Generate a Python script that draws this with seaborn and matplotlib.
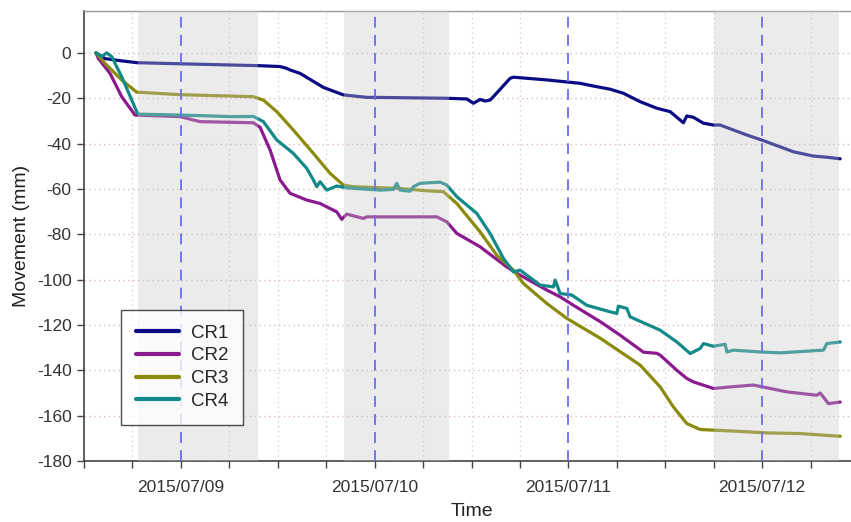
import numpy as np
import pandas as pd
import matplotlib
matplotlib.use("Agg")
import matplotlib.pyplot as plt
import matplotlib.dates as mdates
import seaborn as sns

# ---- data (hours since 2015-07-08 00:00, movement in mm) ----
series_names = ["CR1", "CR2", "CR3", "CR4"]
palette_colors = ["#0b0b86", "#8a1a8e", "#8a8a0c", "#128a8a"]

cr1_hours = [13.49, 14.6, 16.67, 18.57, 24.02, 33.56, 36.28, 37.11, 37.52, 38.76, 41.65, 44.13,
             47.03, 47.85, 56.94, 59.42, 60.24, 61.06, 61.68, 62.30, 62.71, 64.78, 65.19, 69.33,
             73.45, 75.10, 77.17, 78.82, 80.89, 82.96, 84.61, 86.25, 86.67, 87.49, 88.73, 89.97,
             90.80, 94.11, 96.17, 99.88, 102.36, 104.02, 105.67]
cr1_mm = [0, -2.5, -3.5, -4.3, -4.8, -5.6, -6.0, -6.8, -7.5, -9.0, -15.2, -18.5,
          -19.6, -19.6, -20.0, -20.3, -22.2, -20.5, -21.2, -20.8, -19.3, -11.2, -10.7, -11.9,
          -13.4, -14.6, -16.0, -17.8, -21.5, -24.4, -25.9, -30.8, -27.8, -28.4, -31.0, -31.8,
          -31.8, -36.2, -38.7, -43.6, -45.5, -46.0, -46.7]

cr2_hours = [13.49, 13.77, 15.22, 16.67, 18.32, 23.89, 26.37, 32.98, 33.81, 35.05, 36.28, 37.52,
             39.59, 41.24, 42.07, 43.31, 43.93, 44.55, 46.61, 47.03, 50.74, 55.70, 56.94, 58.18,
             61.06, 64.37, 66.02, 69.33, 70.98, 72.62, 75.93, 78.41, 81.30, 82.96, 83.37, 85.44,
             86.67, 87.49, 89.97, 92.45, 94.93, 99.06, 102.78, 103.19, 104.22, 105.67]
cr2_mm = [0, -2.4, -9.0, -19.3, -27.4, -28.1, -30.3, -30.8, -32.8, -42.8, -56.0, -61.9,
          -64.9, -66.4, -67.9, -70.1, -73.4, -71.1, -73.0, -72.3, -72.3, -72.3, -74.5, -79.6,
          -85.5, -94.4, -98.0, -104.6, -107.6, -111.3, -118.5, -124.5, -132.0, -132.5, -133.3, -140.0,
          -143.6, -145.1, -148.0, -147.2, -146.5, -149.5, -151.0, -150.0, -154.7, -154.0]

cr3_hours = [13.49, 14.60, 16.67, 18.53, 23.89, 32.98, 34.22, 35.88, 37.93, 40.41, 42.48, 44.13,
             45.37, 51.15, 54.46, 56.52, 58.18, 61.06, 63.13, 65.19, 66.43, 69.33, 71.81, 75.93,
             80.89, 83.37, 85.02, 86.67, 88.32, 92.45, 96.59, 100.71, 105.67]
cr3_mm = [0, -4.6, -11.9, -17.3, -18.4, -19.3, -20.8, -25.9, -34.0, -44.3, -53.1, -58.3,
          -59.0, -59.8, -60.8, -61.2, -66.4, -78.9, -89.2, -95.8, -101.7, -110.5, -117.1, -125.8,
          -137.7, -147.3, -156.2, -163.5, -166.1, -166.8, -167.6, -167.9, -169.1]

cr4_hours = [13.49, 14.19, 14.81, 15.43, 16.67, 18.53, 18.73, 23.89, 30.50, 32.98, 34.22, 35.88,
             37.93, 39.59, 40.41, 40.83, 41.24, 42.07, 43.31, 44.55, 48.67, 50.32, 50.74, 51.15,
             52.39, 52.80, 53.63, 56.11, 56.94, 58.18, 60.66, 62.30, 63.95, 65.19, 66.02, 68.50,
             70.15, 70.36, 70.98, 72.43, 74.28, 77.17, 78.00, 78.20, 79.24, 79.65, 83.37, 85.44,
             87.08, 88.32, 88.73, 89.97, 91.42, 91.63, 92.45, 95.76, 98.23, 103.60, 104.02, 105.67]
cr4_mm = [0, -1.6, 0, -1.6, -10.5, -25.9, -27.0, -27.4, -28.1, -28.0, -30.3, -38.4,
          -44.3, -50.9, -56.0, -59.0, -56.8, -60.5, -58.7, -59.5, -60.5, -60.2, -57.5, -60.5,
          -61.0, -59.0, -57.5, -57.0, -58.3, -63.4, -70.8, -79.6, -90.6, -96.6, -95.8, -102.4,
          -103.2, -100.2, -106.1, -106.8, -111.3, -114.2, -114.9, -111.7, -112.7, -116.4, -122.3, -127.5,
          -132.6, -130.4, -128.2, -129.4, -128.5, -131.9, -131.1, -131.9, -132.3, -131.1, -128.2, -127.5]

# shaded periods (hours since 2015-07-08 00:00)
shade_start_hours = [18.69, 44.25, 90.06]
shade_end_hours = [33.56, 57.22, 105.55]

x_start_hours, x_end_hours = 12, 108
y_ticks = list(range(0, -181, -20))

# ---- build table ----
base = pd.Timestamp("2015-07-08 00:00")
def to_time(h):
    return base + pd.to_timedelta(np.asarray(h, dtype=float), unit="h")

frames = []
for name, hrs, vals in zip(series_names,
                           [cr1_hours, cr2_hours, cr3_hours, cr4_hours],
                           [cr1_mm, cr2_mm, cr3_mm, cr4_mm]):
    frames.append(pd.DataFrame({"Time": to_time(hrs), "Movement": vals, "Sensor": name}))
df = pd.concat(frames, ignore_index=True)

# ---- style ----
sns.set_style("ticks")
plt.rcParams["font.family"] = ["Liberation Sans", "DejaVu Sans"]
plt.rcParams["axes.unicode_minus"] = False

W, H = 851, 522
fig = plt.figure(figsize=(W / 100, H / 100), dpi=100)
ax = fig.add_axes([84 / W, 1 - 461 / H, 775 / W, 450 / H])

sns.lineplot(data=df, x="Time", y="Movement", hue="Sensor", hue_order=series_names,
             palette=palette_colors, estimator=None, sort=True, linewidth=2.3, ax=ax, zorder=2)

# shaded overlays (drawn above lines, which makes them lighter)
for s, e in zip(shade_start_hours, shade_end_hours):
    ax.axvspan(to_time([s])[0], to_time([e])[0], color="#c8c8c8", alpha=0.35, lw=0, zorder=3)

ax.set_xlim(to_time([x_start_hours])[0], to_time([x_end_hours])[0])
ax.set_ylim(-180, 18.5)
ax.set_yticks(y_ticks)

ax.xaxis.set_major_locator(mdates.DayLocator())
ax.xaxis.set_major_formatter(mdates.DateFormatter("%Y/%m/%d"))
ax.xaxis.set_minor_locator(mdates.HourLocator(byhour=[6, 12, 18]))

# grid
ax.grid(axis="y", which="major", color="#e0b8b8", linestyle=(0, (1, 2.5)), linewidth=1.0, zorder=1)
ax.grid(axis="x", which="minor", color="#d8d0d0", linestyle=(0, (1, 2.5)), linewidth=1.0, zorder=1)
for d in ["2015-07-09", "2015-07-10", "2015-07-11", "2015-07-12"]:
    ax.axvline(pd.Timestamp(d), color="#6b6bf5", linestyle=(0, (6, 4)), linewidth=1.3, zorder=4)

ax.tick_params(axis="both", which="major", direction="out", length=5, width=1, colors="#444444",
               labelsize=12.5, labelcolor="#333333", pad=4)
ax.tick_params(axis="x", which="minor", direction="out", length=5, width=1, colors="#444444")
ax.tick_params(axis="x", which="major", pad=8.5)

for sp in ["left", "bottom"]:
    ax.spines[sp].set_color("#444444")
    ax.spines[sp].set_linewidth(1.2)
ax.spines["top"].set_color("#999999")
ax.spines["top"].set_linewidth(1.0)
ax.spines["right"].set_visible(False)

ax.set_xlabel("Time", fontsize=14, color="#222222", labelpad=6)
ax.set_ylabel("Movement (mm)", fontsize=14, color="#222222", labelpad=5)

leg = ax.legend(loc="lower left", bbox_to_anchor=(0.048, 0.08), borderaxespad=0,
                frameon=True, fancybox=False, fontsize=13.5, handlelength=2.3,
                handletextpad=0.6, labelspacing=0.3, borderpad=0.8)
leg.get_frame().set_edgecolor("#222222")
leg.get_frame().set_linewidth(1.0)
leg.set_zorder(6)
for line in leg.get_lines():
    line.set_linewidth(3)

fig.savefig("out.png", dpi=100)
